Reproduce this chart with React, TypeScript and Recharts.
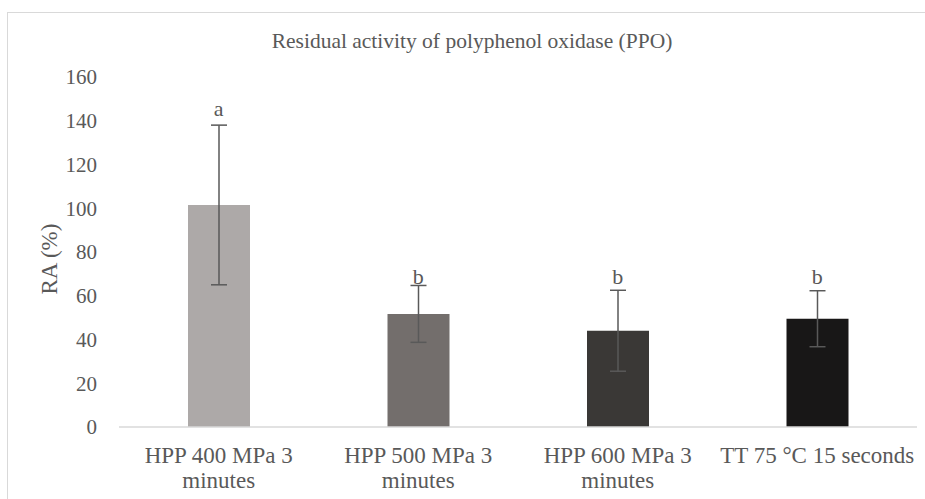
import React from 'react'
import { Bar, Cell, ComposedChart, ErrorBar, LabelList, Line, XAxis, YAxis } from 'recharts'

// treatments, with the wrap point of each axis label marked by \n
const categories = [
  'HPP 400 MPa 3\nminutes',
  'HPP 500 MPa 3\nminutes',
  'HPP 600 MPa 3\nminutes',
  'TT 75 °C 15 seconds',
]
const residualActivity = [101.5, 51.7, 44.0, 49.5]
const residualError = [36.5, 13.0, 18.5, 12.8]
const groupLetters = ['a', 'b', 'b', 'b']
const letterLevel = [142, 65.4, 65.4, 65.4]
const yTicks = [0, 20, 40, 60, 80, 100, 120, 140, 160]

const barColors = ['#ADA9A8', '#736E6C', '#3A3836', '#181717']
const textColor = '#595959'
const lineColor = '#D9D9D9'
const font = "'Liberation Serif', 'Times New Roman', serif"

const data = categories.map((name, i) => ({
  name,
  ra: residualActivity[i],
  err: residualError[i],
  letter: groupLetters[i],
  letterY: letterLevel[i],
}))

function CategoryTick(props: any) {
  const { x, y, payload } = props
  const lines = String(payload.value).split('\n')
  return (
    <g>
      {lines.map((line, i) => (
        <text
          key={i}
          x={x}
          y={y + 28 + i * 25}
          textAnchor="middle"
          fill={textColor}
          style={{ fontSize: 23, fontFamily: font }}
        >
          {line}
        </text>
      ))}
    </g>
  )
}

function LetterLabel(props: any) {
  const { x, y, value } = props
  return (
    <text x={x} y={y} textAnchor="middle" fill={textColor} style={{ fontSize: 22, fontFamily: font }}>
      {value}
    </text>
  )
}

function AxisTitle(props: any) {
  const { viewBox } = props
  const cx = viewBox.x - 2
  const cy = viewBox.y + viewBox.height / 2 + 7
  return (
    <text
      x={cx}
      y={cy}
      transform={`rotate(-90, ${cx}, ${cy})`}
      textAnchor="middle"
      fill={textColor}
      style={{ fontSize: 23, fontFamily: font }}
    >
      RA (%)
    </text>
  )
}

export default function App() {
  return (
    <div
      style={{
        position: 'absolute',
        left: 0,
        top: 0,
        width: 925,
        height: 499,
        overflow: 'hidden',
        background: '#fff',
        fontFamily: font,
      }}
    >
      <div
        style={{
          position: 'absolute',
          left: 7,
          top: 12,
          width: 1000,
          height: 600,
          border: `1px solid ${lineColor}`,
        }}
      />
      <svg width={925} height={499} style={{ position: 'absolute', left: 0, top: 0 }}>
        <text
          x={472}
          y={48}
          textAnchor="middle"
          fill={textColor}
          style={{ fontSize: 21.5, fontFamily: font }}
        >
          Residual activity of polyphenol oxidase (PPO)
        </text>
      </svg>
      <div style={{ position: 'absolute', left: 0, top: 0 }}>
        <ComposedChart
          width={925}
          height={499}
          data={data}
          margin={{ top: 77, right: 8, bottom: 0, left: 59 }}
        >
          <XAxis
            dataKey="name"
            tick={(p: any) => <CategoryTick {...p} />}
            tickLine={false}
            axisLine={{ stroke: lineColor, strokeWidth: 1.5 }}
            interval={0}
            height={72}
          />
          <YAxis
            width={60}
            domain={[0, 160]}
            ticks={yTicks}
            interval={0}
            axisLine={false}
            tickLine={false}
            tickMargin={16}
            tick={{ fill: textColor, fontSize: 21, fontFamily: font }}
            label={<AxisTitle />}
          />
          <Bar dataKey="ra" barSize={62} isAnimationActive={false}>
            {data.map((d, i) => (
              <Cell key={d.name} fill={barColors[i]} />
            ))}
            <ErrorBar
              dataKey="err"
              direction="y"
              width={8}
              stroke={textColor}
              strokeWidth={1.5}
              isAnimationActive={false}
            />
          </Bar>
          <Line
            dataKey="letterY"
            stroke="none"
            dot={false}
            activeDot={false}
            legendType="none"
            isAnimationActive={false}
          >
            <LabelList dataKey="letter" content={(p: any) => <LetterLabel {...p} />} />
          </Line>
        </ComposedChart>
      </div>
    </div>
  )
}
